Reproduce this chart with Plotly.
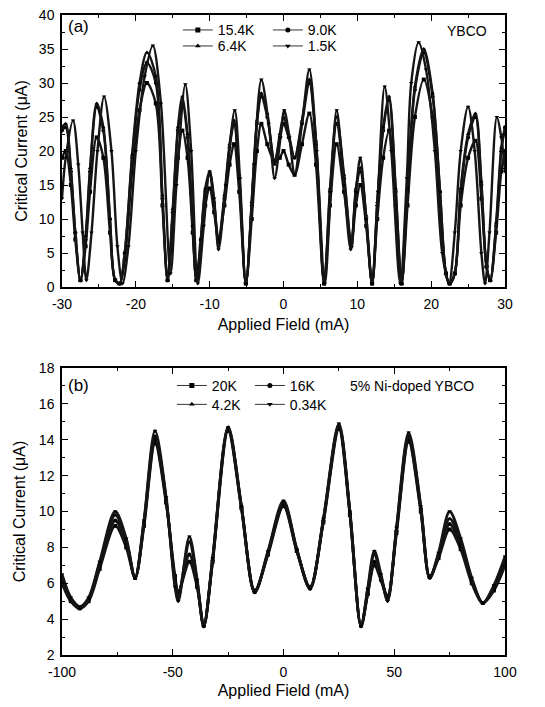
import plotly.graph_objects as go

# ---- panel (a): YBCO ----
xa = [-30, -29.5, -28.8, -28.2, -27.5, -26.8, -26.2, -25.3, -24.4, -23.5, -22.8, -22.2, -21.5,
      -20.5, -19.5, -18.5, -17.3, -16.4, -15.7, -15.0, -14.3, -13.7, -13.0, -12.3, -11.8, -11.2,
      -10.6, -10.0, -9.4, -8.8, -8.0, -7.3, -6.7, -6.0, -5.1, -4.3, -3.6, -3.0, -2.2, -1.2, -0.5,
      0, 0.7, 1.5, 2.5, 3.5, 4.4, 5.5, 6.3, 7.2, 8.2, 9.2, 9.8, 10.4, 11.2, 12.0, 12.7, 13.5,
      14.3, 15.2, 16.0, 16.8, 17.8, 19.0, 20.2, 21.2, 22.0, 22.5, 23.2, 24.0, 25.0, 26.0, 26.8,
      27.5, 28.0, 28.8, 29.5, 30]
ya_154 = [19, 20, 15, 7, 1, 6, 14, 22, 19, 8, 1, 0.5, 4,
          17, 26, 30, 27, 12, 1, 9, 19, 23, 19, 8, 1, 6,
          12, 14.5, 11, 7, 12, 18, 21, 14, 0.5, 10, 20, 24, 21, 18.5, 19,
          20, 18, 16.5, 21, 25.5, 18, 0.5, 12, 21, 14, 6.5, 12, 15, 9, 0.5, 10, 19,
          23, 12, 0.5, 12, 25, 30.5, 25, 12, 2, 0.5, 2, 12, 19, 21.5, 13,
          3, 1, 8, 17, 20]
ya_90 = [23, 23.5, 17, 8, 1, 7, 17, 26.5, 23, 10, 1, 0.5, 5,
         19, 29, 33, 30, 13, 1, 11, 23, 27, 22, 9, 1, 7,
         14, 16.5, 12, 6.5, 13, 20.5, 24, 16, 0.5, 12, 24, 28, 25, 18.5, 22,
         24, 22, 19, 24, 30, 21, 0.5, 14, 24, 16, 6, 14, 17, 10, 0.5, 12, 23,
         27.5, 14, 0.5, 14, 29, 34.5, 28, 14, 2, 0.5, 2, 14, 22, 25, 15,
         3, 1, 9, 20, 23.5]
ya_64 = [23.5, 24, 17.5, 8, 1, 7.5, 17.5, 27, 23.5, 10, 1, 0.5, 5,
         19.5, 30, 34.5, 31, 13.5, 1, 11.5, 23.5, 28, 22.5, 9, 1, 7,
         14.5, 17, 12.5, 7, 13.5, 21, 24.5, 16.5, 0.5, 12.5, 24.5, 28.5, 25.5, 18, 22.5,
         25, 22.5, 19, 24.5, 30.5, 21.5, 0.5, 14.5, 25, 16.5, 6.5, 14.5, 17.5, 10.5, 0.5, 12.5, 23.5,
         28, 14.5, 0.5, 14.5, 29.5, 35, 28.5, 14, 2, 0.5, 2, 14.5, 22.5, 25.5, 15.5,
         3, 1, 9.5, 20.5, 23.5]

xa_15 = [-30, -29.5, -28.5, -27.8, -27.2, -26.7, -26.0, -25.2, -24.3, -23.3, -22.5, -21.8, -21.0,
         -20.0, -18.8, -17.7, -16.6, -15.3, -14.5, -13.3, -12.5, -11.6, -10.8, -10.0, -9.4, -8.8,
         -7.8, -6.6, -5.9, -5.1, -4.0, -3.0, -2.0, -1.2, -0.4, 0.1, 0.8, 1.5, 2.5, 3.5, 4.5,
         5.6, 6.4, 7.2, 8.2, 9.1, 9.8, 10.4, 11.2, 12.0, 12.8, 13.7, 14.6, 15.8, 16.7, 17.3,
         18.3, 19.3, 20.5, 21.5, 22.4, 23.2, 24.0, 25.0, 25.9, 26.8, 27.3, 27.9, 28.9, 29.5, 30]
ya_15 = [13, 19, 24.5, 18, 8, 1, 8, 20, 28, 20, 6, 0.5, 6,
         20, 31, 35.5, 27, 2, 15, 29.8, 20, 0.5, 9, 17, 13, 5.5,
         15, 26, 16, 0.5, 18, 30.5, 24, 16, 22, 26, 22, 16.5, 24, 32, 20,
         0.5, 14, 26, 15, 5.5, 14, 19, 10, 0.5, 14, 29.5, 20, 0.5, 16, 30,
         36, 32, 20, 5, 0.5, 8, 20, 26.5, 20, 5, 0.5, 8, 25, 22, 17]

# ---- panel (b): 5% Ni-doped YBCO ----
xb = [-100, -96, -92, -88, -83, -76, -71, -67, -63, -58, -53, -49, -47.5, -42.5, -39, -36,
      -32, -25, -19, -13, -7, 0, 6, 12, 18, 25, 30, 35, 38, 41, 44, 47, 51, 56.5, 62, 66,
      70, 75, 80, 85, 90, 95, 100]
yb_20 = [6.0, 5.0, 4.6, 5.0, 6.8, 9.2, 8.0, 6.3, 9.2, 13.8, 10.5, 6.4, 5.5, 7.2, 5.8, 3.7,
         7.2, 14.5, 10.2, 5.6, 7.6, 10.3, 7.8, 5.8, 9.4, 14.6, 9.8, 3.7, 5.4, 7.0, 6.2, 5.3, 8.8, 13.9, 10.0, 6.4,
         7.4, 9.0, 7.9, 6.0, 4.9, 5.6, 7.0]
yb_16 = [6.1, 5.0, 4.6, 5.1, 7.0, 9.5, 8.2, 6.3, 9.3, 14.0, 10.6, 6.2, 5.4, 7.6, 5.9, 3.6,
         7.3, 14.6, 10.2, 5.5, 7.7, 10.4, 7.8, 5.7, 9.5, 14.7, 9.9, 3.6, 5.4, 7.2, 6.2, 5.2, 8.9, 14.0, 10.1, 6.3,
         7.5, 9.3, 8.1, 6.1, 4.9, 5.7, 7.2]
yb_42 = [6.3, 5.1, 4.6, 5.1, 7.1, 9.8, 8.4, 6.3, 9.4, 14.2, 10.7, 6.0, 5.2, 8.3, 6.1, 3.6,
         7.3, 14.7, 10.3, 5.5, 7.7, 10.5, 7.9, 5.7, 9.5, 14.8, 9.9, 3.6, 5.6, 7.6, 6.4, 5.1, 9.0, 14.2, 10.2, 6.3,
         7.6, 9.6, 8.3, 6.2, 4.9, 5.8, 7.4]
yb_034 = [6.5, 5.2, 4.7, 5.2, 7.2, 10.0, 8.5, 6.3, 9.5, 14.5, 10.8, 5.8, 5.0, 8.6, 6.2, 3.6,
          7.4, 14.7, 10.3, 5.5, 7.8, 10.6, 7.9, 5.7, 9.6, 14.9, 10.0, 3.6, 5.7, 7.8, 6.5, 5.0, 9.1, 14.4, 10.3, 6.3,
          7.7, 10.0, 8.5, 6.3, 4.9, 5.9, 7.5]

names_a = ['15.4K', '9.0K', '6.4K', '1.5K']
names_b = ['20K', '16K', '4.2K', '0.34K']
symbols = ['square', 'circle', 'triangle-up', 'triangle-down']

# tick labels with plain hyphen minus, as in the original figure
xa_ticks = [-30, -20, -10, 0, 10, 20, 30]
xa_ticktext = ['-30', '-20', '-10', '0', '10', '20', '30']
xb_ticks = [-100, -50, 0, 50, 100]
xb_ticktext = ['-100', '-50', '0', '50', '100']

fig = go.Figure()

series_a = [(xa, ya_154), (xa, ya_90), (xa, ya_64), (xa_15, ya_15)]
for (x, y), sym in zip(series_a, symbols):
    fig.add_trace(go.Scatter(
        x=x, y=y, mode='lines+markers', xaxis='x', yaxis='y',
        line=dict(color='#151515', width=2.4, shape='spline', smoothing=0.9),
        marker=dict(symbol=sym, size=4, color='#000'),
        showlegend=False
    ))

series_b = [(xb, yb_20), (xb, yb_16), (xb, yb_42), (xb, yb_034)]
for (x, y), sym in zip(series_b, symbols):
    fig.add_trace(go.Scatter(
        x=x, y=y, mode='lines+markers', xaxis='x2', yaxis='y2',
        line=dict(color='#151515', width=2.8, shape='spline', smoothing=0.9),
        marker=dict(symbol=sym, size=4, color='#000'),
        showlegend=False
    ))

# legend-only traces (thin line with small marker)
legend_ids = ['legend', 'legend', 'legend2', 'legend2']
for name, sym, lg in zip(names_a, symbols, legend_ids):
    fig.add_trace(go.Scatter(
        x=[None], y=[None], mode='lines+markers', name=name, xaxis='x', yaxis='y',
        line=dict(color='#333', width=1), marker=dict(symbol=sym, size=5, color='#000'),
        legend=lg
    ))
legend_ids_b = ['legend3', 'legend3', 'legend4', 'legend4']
for name, sym, lg in zip(names_b, symbols, legend_ids_b):
    fig.add_trace(go.Scatter(
        x=[None], y=[None], mode='lines+markers', name=name, xaxis='x2', yaxis='y2',
        line=dict(color='#333', width=1), marker=dict(symbol=sym, size=5, color='#000'),
        legend=lg
    ))

axis_common = dict(
    showline=True, linecolor='#000', linewidth=1.5, mirror='allticks',
    ticks='inside', ticklen=6, tickwidth=1, tickcolor='#000',
    showgrid=False, zeroline=False, ticklabeloverflow='allow',
    tickfont=dict(family='Liberation Sans, Arial', size=14, color='#000'),
    title_font=dict(family='Liberation Sans, Arial', size=16, color='#000'),
    minor=dict(ticks='inside', ticklen=3, tickcolor='#000', showgrid=False),
)

leg_common = dict(
    orientation='h', bgcolor='rgba(0,0,0,0)', borderwidth=0,
    font=dict(family='Liberation Sans, Arial', size=14, color='#000'),
    itemwidth=30, xanchor='left', yanchor='middle',
    tracegroupgap=0,
)

# page body has an 8px margin, so the figure is drawn 8px in from the window edge
fig.update_layout(
    width=537, height=701,
    margin=dict(l=54, r=40, t=7, b=54, autoexpand=False),
    paper_bgcolor='white', plot_bgcolor='white',
    font=dict(family='Liberation Sans, Arial', size=14, color='#000'),
    xaxis=dict(axis_common, domain=[0, 1], anchor='y', range=[-30, 30],
               tickvals=xa_ticks, ticktext=xa_ticktext, ticklabelstandoff=3,
               minor=dict(axis_common['minor'], dtick=5),
               title=dict(text='Applied Field (mA)', standoff=8)),
    yaxis=dict(axis_common, domain=[0.575, 1], anchor='x', range=[0, 40], dtick=5,
               ticklabelstandoff=3,
               minor=dict(axis_common['minor'], dtick=2.5),
               title=dict(text='Critical Current (\u03bcA)', standoff=7)),
    xaxis2=dict(axis_common, domain=[0, 1], anchor='y2', range=[-100, 100],
                tickvals=xb_ticks, ticktext=xb_ticktext, ticklabelstandoff=3,
                minor=dict(axis_common['minor'], dtick=25),
                title=dict(text='Applied Field (mA)', standoff=6)),
    yaxis2=dict(axis_common, domain=[0, 0.4484], anchor='x2', range=[2, 18], dtick=2,
                ticklabelstandoff=3,
                minor=dict(axis_common['minor'], dtick=1),
                title=dict(text='Critical Current (\u03bcA)', standoff=9)),
    legend=dict(leg_common, x=0.2615, y=0.976, entrywidth=45),
    legend2=dict(leg_common, x=0.2615, y=0.951, entrywidth=45),
    legend3=dict(leg_common, x=0.248, y=0.4205, entrywidth=33),
    legend4=dict(leg_common, x=0.248, y=0.391, entrywidth=33),
    annotations=[
        dict(text='(a)', xref='paper', yref='paper', x=0.01, y=0.982, xanchor='left',
             yanchor='middle', showarrow=False, font=dict(size=17, color='#000')),
        dict(text='YBCO', xref='paper', yref='paper', x=0.965, y=0.975, xanchor='right',
             yanchor='middle', showarrow=False, font=dict(size=14, color='#000')),
        dict(text='(b)', xref='paper', yref='paper', x=0.01, y=0.421, xanchor='left',
             yanchor='middle', showarrow=False, font=dict(size=17, color='#000')),
        dict(text='5% Ni-doped YBCO', xref='paper', yref='paper', x=0.935, y=0.421,
             xanchor='right', yanchor='middle', showarrow=False, font=dict(size=14, color='#000')),
    ],
)

fig.write_html("out.html")
